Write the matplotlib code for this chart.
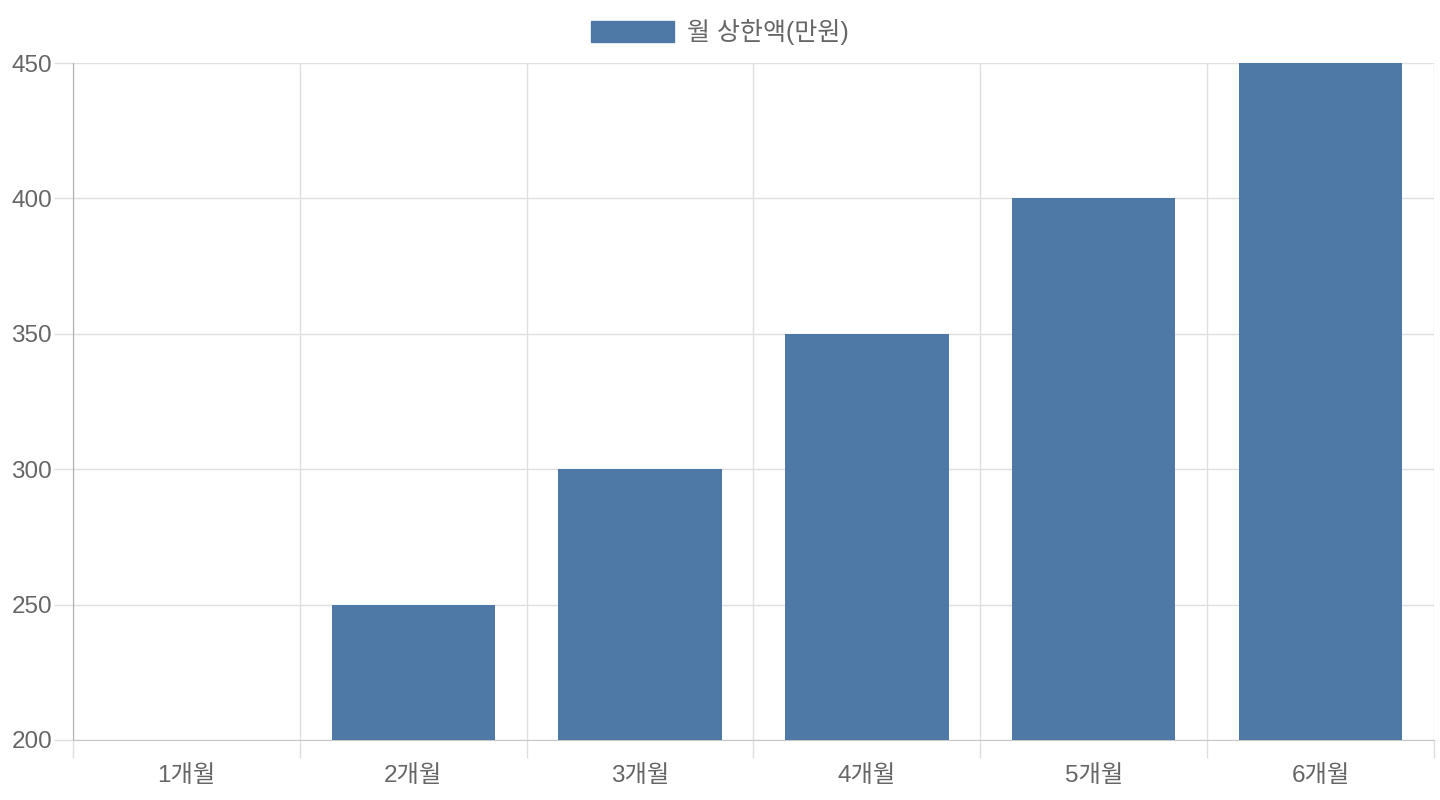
import matplotlib.pyplot as plt
from matplotlib.patches import Patch

plt.rcParams['font.family'] = ['Liberation Sans', 'Noto Sans CJK KR', 'DejaVu Sans']

months = ['1개월', '2개월', '3개월', '4개월', '5개월', '6개월']
limit = [200, 250, 300, 350, 400, 450]
series_name = '월 상한액(만원)'

bar_color = '#4e79a7'
text_color = '#666666'
grid_color = '#e0e0e0'

fig = plt.figure(figsize=(14.4, 8), dpi=100)
ax = fig.add_axes([73 / 1440, 60 / 800, 1361 / 1440, 677 / 800])

x = list(range(len(months)))
ax.bar(x, limit, width=0.72, color=bar_color, zorder=3)

ax.set_xlim(-0.5, len(months) - 0.5)
ax.set_ylim(200, 450)
ax.set_yticks(range(200, 451, 50))

# category labels at centres, grid lines on boundaries
ax.set_xticks(x)
ax.set_xticklabels(months)
ax.set_xticks([i - 0.5 for i in range(len(months) + 1)], minor=True)
ax.tick_params(axis='x', which='major', length=0, pad=18, labelsize=17.5, labelcolor=text_color)
ax.tick_params(axis='x', which='minor', length=13, width=1, color=grid_color)
ax.tick_params(axis='y', length=14, width=1, color=grid_color, pad=1, labelsize=17.5, labelcolor=text_color)

ax.grid(True, axis='x', which='minor', color=grid_color, linewidth=1, zorder=0)
ax.grid(True, axis='y', which='major', color=grid_color, linewidth=1, zorder=0)

for side in ['top', 'right']:
    ax.spines[side].set_visible(False)
ax.spines['left'].set_color('#b0b0b0')
ax.spines['bottom'].set_color('#c8c8c8')

fig.legend(handles=[Patch(color=bar_color, label=series_name)],
           loc='center', bbox_to_anchor=(0.5, 1 - 32 / 800), frameon=False,
           handlelength=3.3, handleheight=0.95, handletextpad=0.55,
           fontsize=18, labelcolor=text_color)

fig.savefig('out.png', dpi=100, facecolor='white')
